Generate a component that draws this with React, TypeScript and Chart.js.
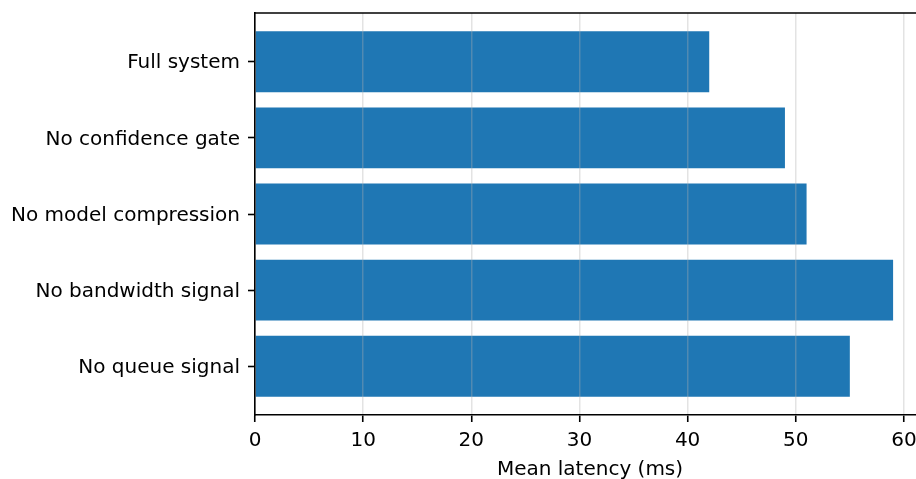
import React, { useEffect, useRef } from "react";
import { Chart, registerables } from "chart.js";

Chart.register(...registerables);

const categories = [
  "Full system",
  "No confidence gate",
  "No model compression",
  "No bandwidth signal",
  "No queue signal",
];
const latencyMs = [42.0, 49.0, 51.0, 59.0, 55.0];
const xTicks = [0, 10, 20, 30, 40, 50, 60];
const xLabel = "Mean latency (ms)";

const FONT = "'DejaVu Sans', sans-serif";

const topSpine = {
  id: "topSpine",
  afterDraw(chart: any) {
    const { ctx, chartArea } = chart;
    ctx.save();
    ctx.strokeStyle = "#000";
    ctx.lineWidth = 1.6;
    ctx.beginPath();
    ctx.moveTo(chartArea.left - 0.8, chartArea.top);
    ctx.lineTo(chartArea.right + 0.8, chartArea.top);
    ctx.stroke();
    ctx.restore();
  },
};

export default function App() {
  const ref = useRef<HTMLCanvasElement | null>(null);

  useEffect(() => {
    if (!ref.current) return;
    const xMax = Math.max(...latencyMs) * 1.05;
    const n = categories.length;
    const yPad = (n - 1 + 0.8) * 0.05;
    const chart = new Chart(ref.current, {
      type: "bar",
      data: {
        datasets: [
          {
            data: latencyMs.map((v, i) => ({ x: v, y: i })),
            backgroundColor: "#1f77b4",
            borderWidth: 0,
            barPercentage: 1,
            categoryPercentage: 0.8,
          },
        ],
      },
      plugins: [topSpine],
      options: {
        indexAxis: "y",
        animation: false,
        responsive: false,
        maintainAspectRatio: false,
        layout: { padding: { left: 0, top: 13, right: 5, bottom: 0 } },
        plugins: {
          legend: { display: false },
          tooltip: { enabled: false },
        },
        scales: {
          x: {
            type: "linear",
            position: "bottom",
            min: 0,
            max: xMax,
            afterBuildTicks: (scale: any) => {
              scale.ticks = xTicks.map((v) => ({ value: v }));
            },
            afterFit: (scale: any) => {
              scale.height = 64;
            },
            grid: {
              display: true,
              z: 1,
              drawOnChartArea: true,
              color: "rgba(176,176,176,0.35)",
              lineWidth: 1.5,
              drawTicks: true,
              tickLength: 7,
              tickColor: "#000",
              tickWidth: 1.6,
            },
            border: { display: true, color: "#000", width: 1.6, z: 1 },
            ticks: {
              color: "#000",
              font: { family: FONT, size: 20 },
              padding: 7,
              maxRotation: 0,
              autoSkip: false,
            },
            title: {
              display: true,
              text: xLabel,
              color: "#000",
              font: { family: FONT, size: 20 },
              padding: { top: 0, bottom: -3 },
            },
          },
          y: {
            type: "linear",
            position: "left",
            reverse: true,
            offset: false,
            min: -0.4 - yPad,
            max: n - 1 + 0.4 + yPad,
            afterBuildTicks: (scale: any) => {
              scale.ticks = categories.map((_, i) => ({ value: i }));
            },
            afterFit: (scale: any) => {
              scale.width = 255;
              scale.paddingTop = 0;
              scale.paddingBottom = 0;
            },
            grid: {
              display: true,
              z: 1,
              offset: false,
              drawOnChartArea: false,
              drawTicks: true,
              tickLength: 7,
              tickColor: "#000",
              tickWidth: 1.6,
            },
            border: { display: true, color: "#000", width: 1.6, z: 1 },
            ticks: {
              color: "#000",
              font: { family: FONT, size: 20 },
              padding: 8,
              labelOffset: 1.5,
              autoSkip: false,
              callback: (v: any) => categories[Math.round(Number(v))] ?? "",
            },
          },
        },
      },
    });
    return () => chart.destroy();
  }, []);

  return (
    <div
      style={{
        position: "fixed",
        left: 0,
        top: 0,
        width: 916,
        height: 479,
        overflow: "hidden",
        background: "#fff",
      }}
    >
      <canvas ref={ref} width={930} height={479} style={{ width: 930, height: 479 }} />
    </div>
  );
}
